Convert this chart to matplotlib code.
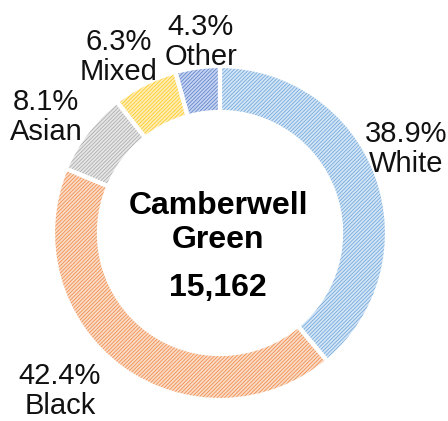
import matplotlib
matplotlib.use('Agg')
import matplotlib.pyplot as plt

# ---------------- data ----------------
groups = ['White', 'Black', 'Asian', 'Mixed', 'Other']
shares = [38.9, 42.4, 8.1, 6.3, 4.3]
ward = 'Camberwell\nGreen'
population = '15,162'

face_cols = ['#d3e4f5', '#fadbc7', '#e6e6e6', '#feeeb5', '#c6d3f0']
line_cols = ['#6ea7dc', '#f08a45', '#aaaaaa', '#ffc820', '#5a82cc']

# label positions in pixels (x, y from top)
label_pos = [(406, 149), (60, 391), (46, 117), (119, 57), (201, 42)]

plt.rcParams['font.family'] = ['Liberation Sans', 'DejaVu Sans']
plt.rcParams['hatch.linewidth'] = 0.55

W, H = 448, 421
fig = plt.figure(figsize=(W / 100, H / 100), dpi=100)
ax = fig.add_axes([0, 0, 1, 1])
ax.set_xlim(0, W)
ax.set_ylim(0, H)
ax.axis('off')

cx, cy, r = 220, H - 233, 167
ring = 0.275

# hatched fill (hatch takes edge colour)
wedges, _ = ax.pie(shares, startangle=90, counterclock=False, center=(cx, cy), radius=r,
                   colors=face_cols, wedgeprops=dict(width=r * ring, linewidth=0))
for w, lc in zip(wedges, line_cols):
    w.set_edgecolor(lc)
    w.set_hatch('/' * 9)

# white borders on top
ax.pie(shares, startangle=90, counterclock=False, center=(cx, cy), radius=r,
       colors=['none'] * len(shares),
       wedgeprops=dict(width=r * ring, linewidth=3, edgecolor='white'))

ax.set_xlim(0, W)
ax.set_ylim(0, H)
ax.set_aspect('equal')

for g, s, (px, py) in zip(groups, shares, label_pos):
    ax.text(px, H - py, f'{s:.1f}%\n{g}', ha='center', va='center',
            multialignment='center', fontsize=21, linespacing=1.1, color='#111111')

ax.text(218, H - 223, ward, ha='center', va='center', fontsize=23,
        fontweight='bold', linespacing=1.15)
ax.text(218, H - 288, population, ha='center', va='center', fontsize=23,
        fontweight='bold')

plt.savefig('out.png', dpi=100)
